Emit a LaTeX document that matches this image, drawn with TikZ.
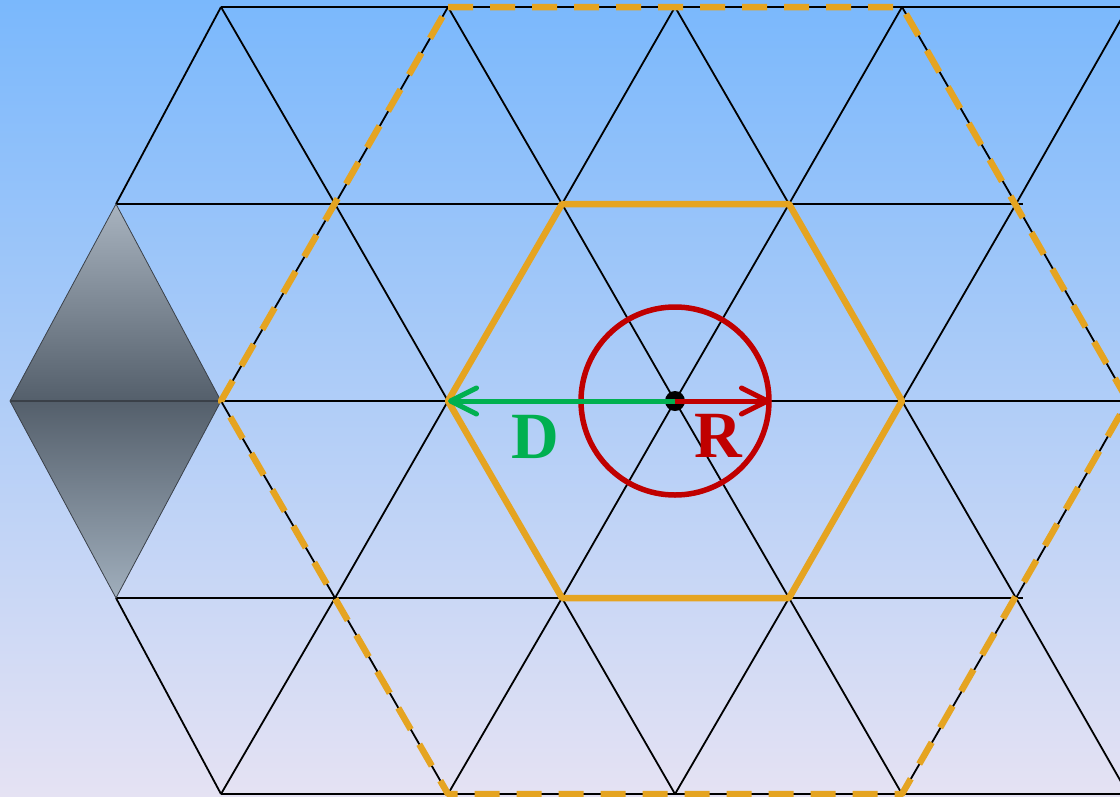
\documentclass[tikz,border=0pt]{standalone}
\usepackage{fontspec}
\setmainfont{Liberation Serif}
\usetikzlibrary{arrows.meta}
\definecolor{bgtop}{RGB}{122,184,252}
\definecolor{bgbot}{RGB}{229,226,243}
\definecolor{hexor}{RGB}{229,164,33}
\definecolor{rred}{RGB}{192,0,0}
\definecolor{dgreen}{RGB}{0,176,80}
\definecolor{dtop}{RGB}{168,179,191}
\definecolor{dmid}{RGB}{84,95,107}
\definecolor{dbot}{RGB}{160,174,188}
\definecolor{dedge}{RGB}{58,64,72}
\begin{document}
\begin{tikzpicture}[x=1pt,y=-1pt,
  lat/.style={line width=1.8pt, black},
  hor/.style={line width=2.4pt, black},
  hexsolid/.style={hexor, line width=6.5pt, line join=round},
  hexdash/.style={hexor, line width=6.5pt, line join=round, dash pattern=on 25pt off 17pt},
  vec/.style={line width=5pt, -{Straight Barb[length=26pt,width=26pt,round]}},
  lbl/.style={inner sep=0pt, font=\bfseries\fontsize{66}{66}\selectfont}]
\useasboundingbox (0,0) rectangle (1120,796);
\shade[top color=bgtop, bottom color=bgbot] (0,0) rectangle (1120,796);
\clip (0,0) rectangle (1120,796);
% lattice points
\coordinate (A0) at (221,7);  \coordinate (A1) at (448,7);  \coordinate (A2) at (675,7);
\coordinate (A3) at (902,7);  \coordinate (A4) at (1128,7);
\coordinate (B0) at (116,204); \coordinate (B1) at (335,204); \coordinate (B2) at (562,204);
\coordinate (B3) at (789,204); \coordinate (B4) at (1016,204);
\coordinate (C0) at (10,401);  \coordinate (C1) at (221,401); \coordinate (C2) at (448,401);
\coordinate (C3) at (675,401); \coordinate (C4) at (902,401); \coordinate (C5) at (1128,401);
\coordinate (D0) at (116,598); \coordinate (D1) at (335,598); \coordinate (D2) at (562,598);
\coordinate (D3) at (789,598); \coordinate (D4) at (1016,598);
\coordinate (E0) at (221,794); \coordinate (E1) at (448,794); \coordinate (E2) at (675,794);
\coordinate (E3) at (902,794); \coordinate (E4) at (1128,794);
\coordinate (Rtip) at (770,401);
% horizontal lines
\draw[hor] (A0) -- (A4);
\draw[hor] (B0) -- (B4) -- ++(7,0);
\draw[hor] (C1) -- (C5);
\draw[hor] (D0) -- (D4) -- ++(7,0);
\draw[hor] (E0) -- (E4);
% rising diagonals
\draw[lat] (B0) -- (A0);
\draw[lat] (C1) -- (B1) -- (A1);
\draw[lat] (E0) -- (D1) -- (C2) -- (B2) -- (A2);
\draw[lat] (E1) -- (D2) -- (C3) -- (B3) -- (A3);
\draw[lat] (E2) -- (D3) -- (C4) -- (B4) -- (A4);
\draw[lat] (E3) -- (D4) -- (C5);
% falling diagonals
\draw[lat] (A0) -- (B1) -- (C2) -- (D2) -- (E2);
\draw[lat] (D0) -- (E0);
\draw[lat] (C1) -- (D1) -- (E1);
\draw[lat] (A1) -- (B2) -- (C3) -- (D3) -- (E3);
\draw[lat] (A2) -- (B3) -- (C4) -- (D4) -- (E4);
\draw[lat] (A3) -- (B4) -- (C5);
% grey diamond
\shade[top color=dtop, bottom color=dmid] (C0) -- (B0) -- (C1) -- cycle;
\shade[top color=dmid, bottom color=dbot] (C0) -- (D0) -- (C1) -- cycle;
\draw[dedge, line width=0.8pt, line join=round] (C0) -- (B0) -- (C1) -- (D0) -- cycle;
\draw[dedge, line width=1.8pt] (C0) -- (C1);
% hexagons
\draw[hexsolid] (B2) -- (B3) -- (C4) -- (D3) -- (D2) -- (C2) -- cycle;
\draw[hexdash] (A1) -- (A3) -- (C5) -- (E3) -- (E1) -- (C1) -- cycle;
% circle, centre, vectors
\draw[rred, line width=5.5pt] (C3) circle[radius=94];
\fill[black] (C3) circle[radius=10];
\draw[vec, dgreen] (C3) -- (C2);
\draw[vec, rred] (C3) -- (Rtip);
\node[lbl, text=dgreen] (Dlab) at (535,437) {D};
\node[lbl, text=rred] (Rlab) at (718,436) {R};
\end{tikzpicture}
\end{document}
